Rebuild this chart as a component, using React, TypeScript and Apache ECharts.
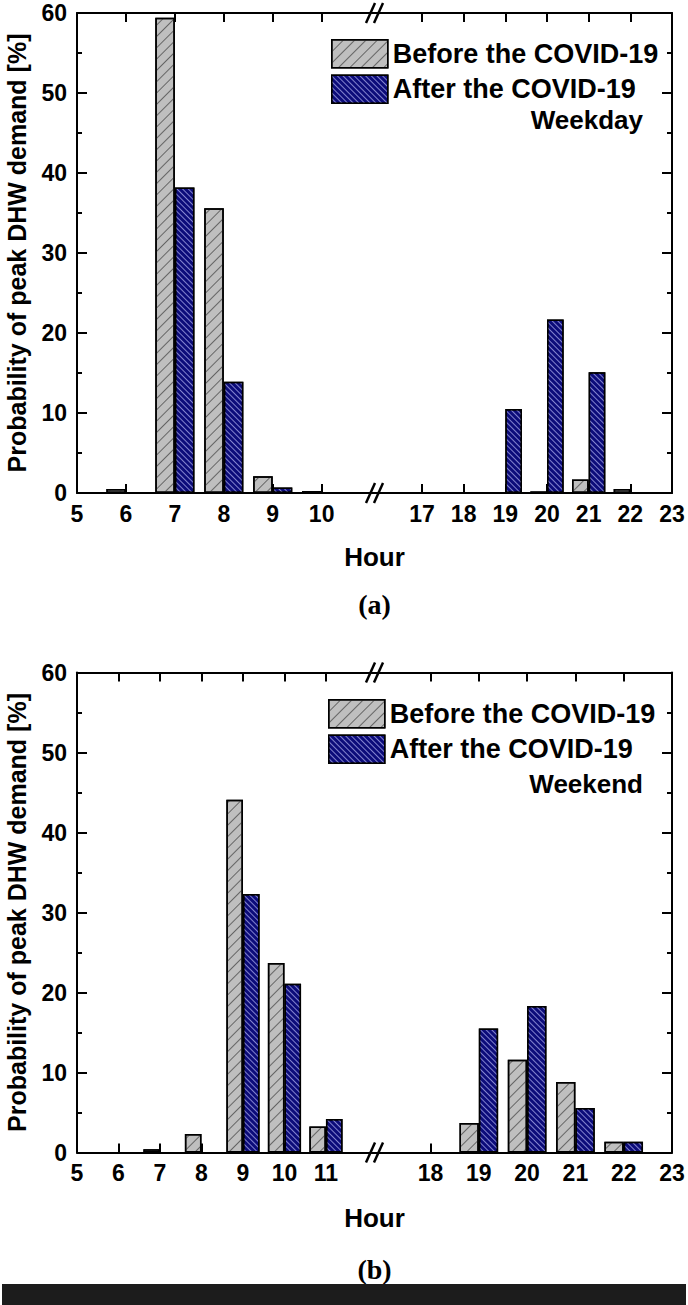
import React, { useEffect, useRef } from "react";
import * as echarts from "echarts";

// ---- Data ----
const SERIES_NAMES = ["Before the COVID-19", "After the COVID-19"];

// Weekday (a)
const WD_HOURS_AM = [5, 6, 7, 8, 9, 10];
const WD_HOURS_PM = [17, 18, 19, 20, 21, 22, 23];
const WD_BEFORE_AM = [0, 0.5, 59.4, 35.6, 2.1, 0.25];
const WD_AFTER_AM = [0, 0, 38.2, 13.9, 0.7, 0];
const WD_BEFORE_PM = [0, 0, 0, 0.2, 1.7, 0.5, 0];
const WD_AFTER_PM = [0, 0, 10.5, 21.7, 15.1, 0, 0];

// Weekend (b)
const WE_HOURS_AM = [5, 6, 7, 8, 9, 10, 11];
const WE_HOURS_PM = [18, 19, 20, 21, 22, 23];
const WE_BEFORE_AM = [0, 0, 0.4, 2.3, 44.1, 23.7, 3.25];
const WE_AFTER_AM = [0, 0, 0, 0, 32.3, 21.1, 4.2];
const WE_BEFORE_PM = [0, 3.7, 11.6, 8.8, 1.35, 0];
const WE_AFTER_PM = [0, 15.5, 18.3, 5.55, 1.35, 0];

const Y_MIN = 0;
const Y_MAX = 60;
const Y_STEP = 10;

// ---- Layout ----
const W = 688;
const H = 1305;
const PLOT_L = 77;
const PLOT_R = 672;
const MID = (PLOT_L + PLOT_R) / 2;
const HALF_W = MID - PLOT_L;
const PLOT_H = 480;
const TOP_A = 13;
const TOP_B = 672.5;

// axis ranges (hours) per half-panel
const RANGE_A_L = [5, 11.08];
const RANGE_A_R = [15.86, 23];
const RANGE_B_L = [5, 12.17];
const RANGE_B_R = [16.84, 23];
const BAR_FRAC = 0.4; // bar width in hours

const SANS = "'Liberation Sans', Arial, sans-serif";
const SERIF = "'Liberation Serif', 'Times New Roman', serif";

const greyStyle = {
  color: "#bfbfbf",
  borderColor: "#000",
  borderWidth: 1.5,
  decal: {
    symbol: "rect",
    symbolSize: 1,
    dashArrayX: [1, 0],
    dashArrayY: [1, 7],
    rotation: -Math.PI / 4,
    color: "rgba(70,70,70,0.75)",
  },
};
const blueStyle = {
  color: "#0c0c7a",
  borderColor: "#000",
  borderWidth: 1.5,
  decal: {
    symbol: "rect",
    symbolSize: 1,
    dashArrayX: [1, 0],
    dashArrayY: [1, 3],
    rotation: Math.PI / 4,
    color: "rgba(170,170,235,0.75)",
  },
};

function pxPerHour(range: number[]) {
  return HALF_W / (range[1] - range[0]);
}

function xAxisPair(gridIndex: number, range: number[], ticks: number[]) {
  const base = {
    type: "value",
    gridIndex,
    min: range[0],
    max: range[1],
    splitLine: { show: false },
    axisLine: { show: true, onZero: false, lineStyle: { color: "#000", width: 2 } },
    axisTick: { show: true, inside: true, length: 9, customValues: ticks, lineStyle: { color: "#000", width: 2 } },
  };
  return [
    {
      ...base,
      position: "bottom",
      axisLabel: {
        show: true,
        customValues: ticks,
        color: "#000",
        fontFamily: SANS,
        fontWeight: "bold",
        fontSize: 23,
        margin: 9,
      },
    },
    { ...base, position: "top", axisLabel: { show: false } },
  ];
}

function yAxis(gridIndex: number, side: "left" | "right") {
  const ax: any = {
    type: "value",
    gridIndex,
    position: side,
    min: Y_MIN,
    max: Y_MAX,
    interval: Y_STEP,
    splitLine: { show: false },
    axisLine: { show: true, onZero: false, lineStyle: { color: "#000", width: 2 } },
    axisTick: { show: true, inside: true, length: 10, lineStyle: { color: "#000", width: 2 } },
    minorTick: { show: true, splitNumber: 2, length: 5, lineStyle: { color: "#000", width: 2 } },
    axisLabel: {
      show: side === "left",
      color: "#000",
      fontFamily: SANS,
      fontWeight: "bold",
      fontSize: 23,
      margin: 10,
    },
  };
  if (side === "left") {
    ax.name = "Probability of peak DHW demand [%]";
    ax.nameLocation = "middle";
    ax.nameRotate = 90;
    ax.nameGap = 48;
    ax.nameTextStyle = { color: "#000", fontFamily: SANS, fontWeight: "bold", fontSize: 25 };
  }
  return ax;
}

function bars(name: string, hours: number[], vals: number[], xi: number, yi: number, width: number, style: any) {
  return {
    type: "bar",
    name,
    xAxisIndex: xi,
    yAxisIndex: yi,
    barWidth: width,
    barGap: "0%",
    itemStyle: style,
    data: hours.map((h, i) =>
      vals[i] === 0
        ? { value: [h, vals[i]], itemStyle: { borderWidth: 0, opacity: 0 } }
        : { value: [h, vals[i]] }
    ),
  };
}

function breakMarks(yAxisLine: number) {
  const els: any[] = [];
  [-4, 4].forEach((dx) => {
    els.push({
      type: "line",
      shape: { x1: MID + dx - 4.5, y1: yAxisLine + 10, x2: MID + dx + 4.5, y2: yAxisLine - 10 },
      style: { stroke: "#000", lineWidth: 2.5 },
      z: 100,
    });
  });
  return els;
}

function legendAt(left: number, top: number) {
  return {
    left,
    top,
    orient: "vertical",
    icon: "rect",
    itemWidth: 56,
    itemHeight: 28,
    itemGap: 6,
    selectedMode: false,
    itemStyle: { borderColor: "#000", borderWidth: 1.5 },
    textStyle: { color: "#000", fontFamily: SANS, fontWeight: "bold", fontSize: 27, lineHeight: 28 },
    data: SERIES_NAMES,
  };
}

function text(x: number, y: number, str: string, align: string, font: string, size: number) {
  return {
    type: "text",
    x,
    y,
    style: {
      text: str,
      fill: "#000",
      font: `bold ${size}px ${font}`,
      textAlign: align,
      textVerticalAlign: "middle",
    },
    z: 100,
  };
}

export default function App() {
  const ref = useRef<HTMLDivElement>(null);
  useEffect(() => {
    document.body.style.margin = "0";
    if (!ref.current) return;
    const chart = echarts.init(ref.current, undefined, { renderer: "svg" });

    const grids = [
      { left: PLOT_L, top: TOP_A, width: HALF_W, height: PLOT_H },
      { left: MID, top: TOP_A, width: HALF_W, height: PLOT_H },
      { left: PLOT_L, top: TOP_B, width: HALF_W, height: PLOT_H },
      { left: MID, top: TOP_B, width: HALF_W, height: PLOT_H },
    ].map((g) => ({ ...g, containLabel: false, outerBoundsMode: "none" }));

    const xAxes = [
      ...xAxisPair(0, RANGE_A_L, WD_HOURS_AM),
      ...xAxisPair(1, RANGE_A_R, WD_HOURS_PM),
      ...xAxisPair(2, RANGE_B_L, WE_HOURS_AM),
      ...xAxisPair(3, RANGE_B_R, WE_HOURS_PM),
    ];
    const yAxes = [yAxis(0, "left"), yAxis(1, "right"), yAxis(2, "left"), yAxis(3, "right")];

    const wAL = BAR_FRAC * pxPerHour(RANGE_A_L);
    const wAR = BAR_FRAC * pxPerHour(RANGE_A_R);
    const wBL = BAR_FRAC * pxPerHour(RANGE_B_L);
    const wBR = BAR_FRAC * pxPerHour(RANGE_B_R);

    const series = [
      bars(SERIES_NAMES[0], WD_HOURS_AM, WD_BEFORE_AM, 0, 0, wAL, greyStyle),
      bars(SERIES_NAMES[1], WD_HOURS_AM, WD_AFTER_AM, 0, 0, wAL, blueStyle),
      bars(SERIES_NAMES[0], WD_HOURS_PM, WD_BEFORE_PM, 2, 1, wAR, greyStyle),
      bars(SERIES_NAMES[1], WD_HOURS_PM, WD_AFTER_PM, 2, 1, wAR, blueStyle),
      bars(SERIES_NAMES[0], WE_HOURS_AM, WE_BEFORE_AM, 4, 2, wBL, greyStyle),
      bars(SERIES_NAMES[1], WE_HOURS_AM, WE_AFTER_AM, 4, 2, wBL, blueStyle),
      bars(SERIES_NAMES[0], WE_HOURS_PM, WE_BEFORE_PM, 6, 3, wBR, greyStyle),
      bars(SERIES_NAMES[1], WE_HOURS_PM, WE_AFTER_PM, 6, 3, wBR, blueStyle),
    ];

    const graphic = [
      ...breakMarks(TOP_A + PLOT_H),
      ...breakMarks(TOP_A),
      ...breakMarks(TOP_B + PLOT_H),
      ...breakMarks(TOP_B),
      text(MID, TOP_A + PLOT_H + 64, "Hour", "center", SANS, 26),
      text(MID, TOP_B + PLOT_H + 65, "Hour", "center", SANS, 26),
      text(MID, 604, "(a)", "center", SERIF, 28),
      text(MID, 1269, "(b)", "center", SERIF, 28),
      text(643, TOP_A + 107, "Weekday", "right", SANS, 26),
      text(643, TOP_B + 111, "Weekend", "right", SANS, 26),
      {
        type: "rect",
        shape: { x: 2, y: 1284, width: 684, height: 21 },
        style: { fill: "#1c1c1c" },
        z: 100,
      },
    ];

    chart.setOption({
      animation: false,
      backgroundColor: "#fff",
      grid: grids,
      xAxis: xAxes,
      yAxis: yAxes,
      legend: [legendAt(326, 34), legendAt(323, 694)],
      series,
      graphic,
    });
    return () => chart.dispose();
  }, []);
  return (
    <div
      ref={ref}
      style={{ position: "absolute", left: 0, top: 0, width: W, height: H }}
    />
  );
}
